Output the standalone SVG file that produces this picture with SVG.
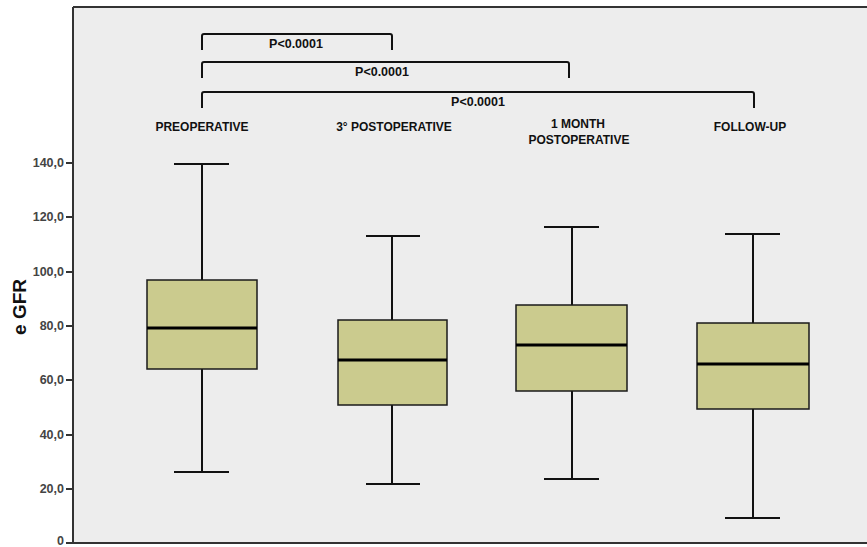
<svg xmlns="http://www.w3.org/2000/svg" width="867" height="547" viewBox="0 0 867 547">
<style>
.box{fill:#CBCB8E;stroke:#1a1a1a;stroke-width:1.5}
.med{stroke:#000;stroke-width:3}
.wh{stroke:#111;stroke-width:2;fill:none}
.br{stroke:#111;stroke-width:2;fill:none}
.lbl{font-family:"Liberation Sans",Arial,sans-serif;font-weight:bold;font-size:12px;fill:#111;text-anchor:middle}
.pv{font-family:"Liberation Sans",Arial,sans-serif;font-weight:bold;font-size:12.5px;fill:#111;text-anchor:middle}
.tick{font-family:"Liberation Sans",Arial,sans-serif;font-weight:bold;font-size:12.5px;fill:#444;text-anchor:end}
.ax{stroke:#333;stroke-width:2}
</style>
<rect width="867" height="547" fill="#fff"/>
<rect x="73" y="7" width="794" height="536" fill="#EDEDED"/>
<g id="axes">
<line class="ax" x1="73" y1="7" x2="867" y2="7" stroke="#666"/>
<line class="ax" x1="73" y1="7" x2="73" y2="544"/>
<line class="ax" x1="66" y1="543" x2="867" y2="543"/>
<g stroke="#333" stroke-width="2">
<line x1="66" y1="163" x2="73" y2="163"/>
<line x1="66" y1="217" x2="73" y2="217"/>
<line x1="66" y1="272" x2="73" y2="272"/>
<line x1="66" y1="326" x2="73" y2="326"/>
<line x1="66" y1="380" x2="73" y2="380"/>
<line x1="66" y1="435" x2="73" y2="435"/>
<line x1="66" y1="489" x2="73" y2="489"/>
</g>
<text class="tick" x="64" y="167">140,0</text>
<text class="tick" x="64" y="221">120,0</text>
<text class="tick" x="64" y="276">100,0</text>
<text class="tick" x="64" y="330">80,0</text>
<text class="tick" x="64" y="384">60,0</text>
<text class="tick" x="64" y="439">40,0</text>
<text class="tick" x="64" y="493">20,0</text>
<text class="tick" x="64" y="545" font-size="11">0</text>
<text font-family="'Liberation Sans',Arial,sans-serif" font-weight="bold" font-size="19" fill="#111" text-anchor="middle" transform="translate(26,307) rotate(-90)">e GFR</text>
</g>
<g id="preoperative">
<line class="wh" x1="202" y1="164" x2="202" y2="280"/>
<line class="wh" x1="174" y1="164" x2="229" y2="164"/>
<line class="wh" x1="202" y1="369" x2="202" y2="472"/>
<line class="wh" x1="174" y1="472" x2="229" y2="472"/>
<rect class="box" x="147" y="280" width="110" height="89"/>
<line class="med" x1="147" y1="328" x2="257" y2="328"/>
<text class="lbl" x="202" y="131">PREOPERATIVE</text>
</g>
<g id="postoperative3">
<line class="wh" x1="392" y1="236" x2="392" y2="320"/>
<line class="wh" x1="366" y1="236" x2="420" y2="236"/>
<line class="wh" x1="392" y1="405" x2="392" y2="484"/>
<line class="wh" x1="366" y1="484" x2="420" y2="484"/>
<rect class="box" x="338" y="320" width="109" height="85"/>
<line class="med" x1="338" y1="360" x2="447" y2="360"/>
<text class="lbl" x="394" y="131">3°  POSTOPERATIVE</text>
</g>
<g id="month1">
<line class="wh" x1="572" y1="227" x2="572" y2="305"/>
<line class="wh" x1="544" y1="227" x2="599" y2="227"/>
<line class="wh" x1="572" y1="391" x2="572" y2="479"/>
<line class="wh" x1="544" y1="479" x2="599" y2="479"/>
<rect class="box" x="516" y="305" width="111" height="86"/>
<line class="med" x1="516" y1="345" x2="627" y2="345"/>
<text class="lbl" x="578" y="128">1 MONTH</text>
<text class="lbl" x="579" y="144">POSTOPERATIVE</text>
</g>
<g id="followup">
<line class="wh" x1="753" y1="234" x2="753" y2="323"/>
<line class="wh" x1="725" y1="234" x2="780" y2="234"/>
<line class="wh" x1="753" y1="409" x2="753" y2="518"/>
<line class="wh" x1="725" y1="518" x2="780" y2="518"/>
<rect class="box" x="697" y="323" width="112" height="86"/>
<line class="med" x1="697" y1="364" x2="809" y2="364"/>
<text class="lbl" x="750" y="131">FOLLOW-UP</text>
</g>
<g id="connectors">
<path class="br" d="M202,50 V36 Q202,34 204,34 H390 Q392,34 392,36 V50"/>
<path class="br" d="M202,78 V64 Q202,62 204,62 H567 Q569,62 569,64 V78"/>
<path class="br" d="M202,108 V94 Q202,92 204,92 H752 Q754,92 754,94 V108"/>
<text class="pv" x="296" y="48">P&lt;0.0001</text>
<text class="pv" x="382" y="76">P&lt;0.0001</text>
<text class="pv" x="478" y="106">P&lt;0.0001</text>
</g>
</svg>
